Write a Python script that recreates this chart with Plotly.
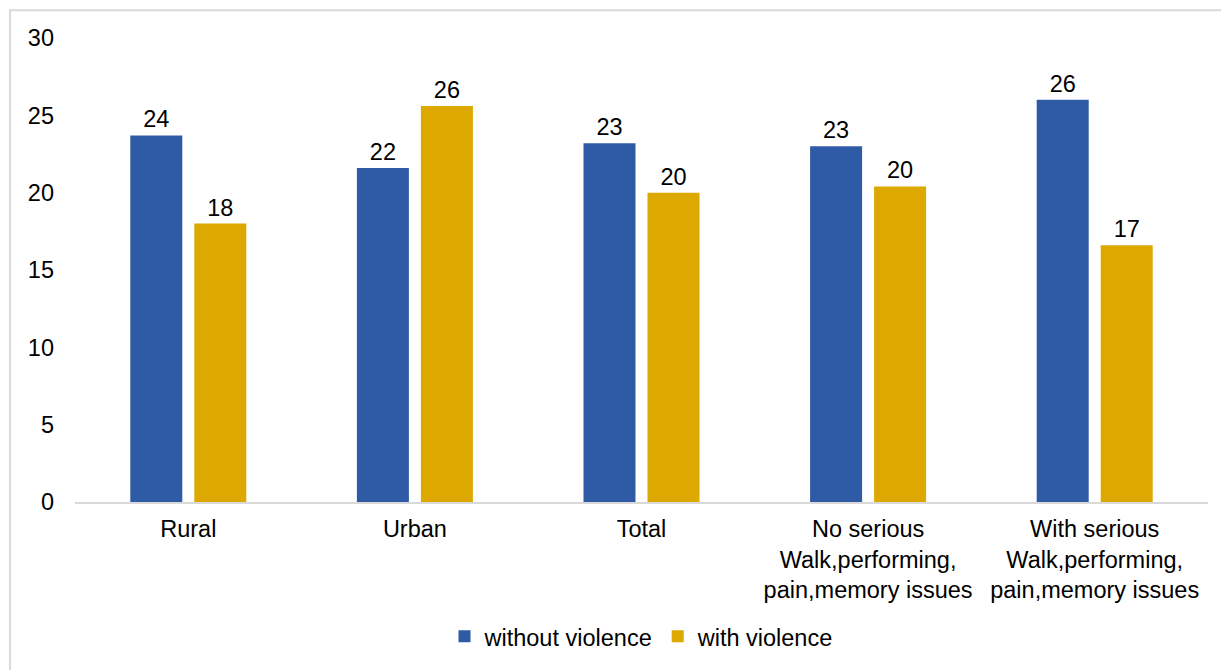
import plotly.graph_objects as go

categories = ["Rural", "Urban", "Total",
              "No serious<br>Walk,performing,<br>pain,memory issues",
              "With serious<br>Walk,performing,<br>pain,memory issues"]
without_violence = [23.7, 21.6, 23.2, 23.0, 26.0]
with_violence = [18.0, 25.6, 20.0, 20.4, 16.6]
labels_without = ["24", "22", "23", "23", "26"]
labels_with = ["18", "26", "20", "20", "17"]
y_ticks = [0, 5, 10, 15, 20, 25, 30]

FONT = "Liberation Sans, Arial, sans-serif"
FS = 23.5

fig = go.Figure()
fig.add_trace(go.Bar(
    x=categories, y=without_violence, name="without violence",
    text=labels_without, textposition="outside",
    marker=dict(color="#2F5BA6", line=dict(width=0)),
    textfont=dict(size=FS, color="#000000", family=FONT),
    cliponaxis=False,
))
fig.add_trace(go.Bar(
    x=categories, y=with_violence, name="with violence",
    text=labels_with, textposition="outside",
    marker=dict(color="#DDA800", line=dict(width=0)),
    textfont=dict(size=FS, color="#000000", family=FONT),
    cliponaxis=False,
))

fig.update_layout(
    width=1221, height=662,
    paper_bgcolor="white", plot_bgcolor="white",
    margin=dict(l=67, r=21, t=30, b=168),
    barmode="group", bargap=0.435, bargroupgap=0.1875,
    font=dict(family=FONT, size=FS, color="#000000"),
    showlegend=True,
    legend=dict(orientation="h", x=0.5, xanchor="center", y=-0.29, yanchor="middle",
                font=dict(size=FS, family=FONT), traceorder="normal"),
    xaxis=dict(showline=True, linecolor="#D9D9D9", linewidth=2, showgrid=False,
               ticks="", tickfont=dict(size=FS), ticklabelstandoff=5),
    yaxis=dict(range=[0, 30], tickvals=y_ticks, showgrid=False, showline=False,
               zeroline=False, ticks="", tickfont=dict(size=FS),
               ticklabelstandoff=20),
    shapes=[dict(type="rect", xref="paper", yref="paper",
                 x0=-0.0574, x1=1.2, y0=-0.8, y1=1.06,
                 line=dict(color="#D9D9D9", width=2), fillcolor="rgba(0,0,0,0)",
                 layer="below")],
)

fig.write_html("out.html")
